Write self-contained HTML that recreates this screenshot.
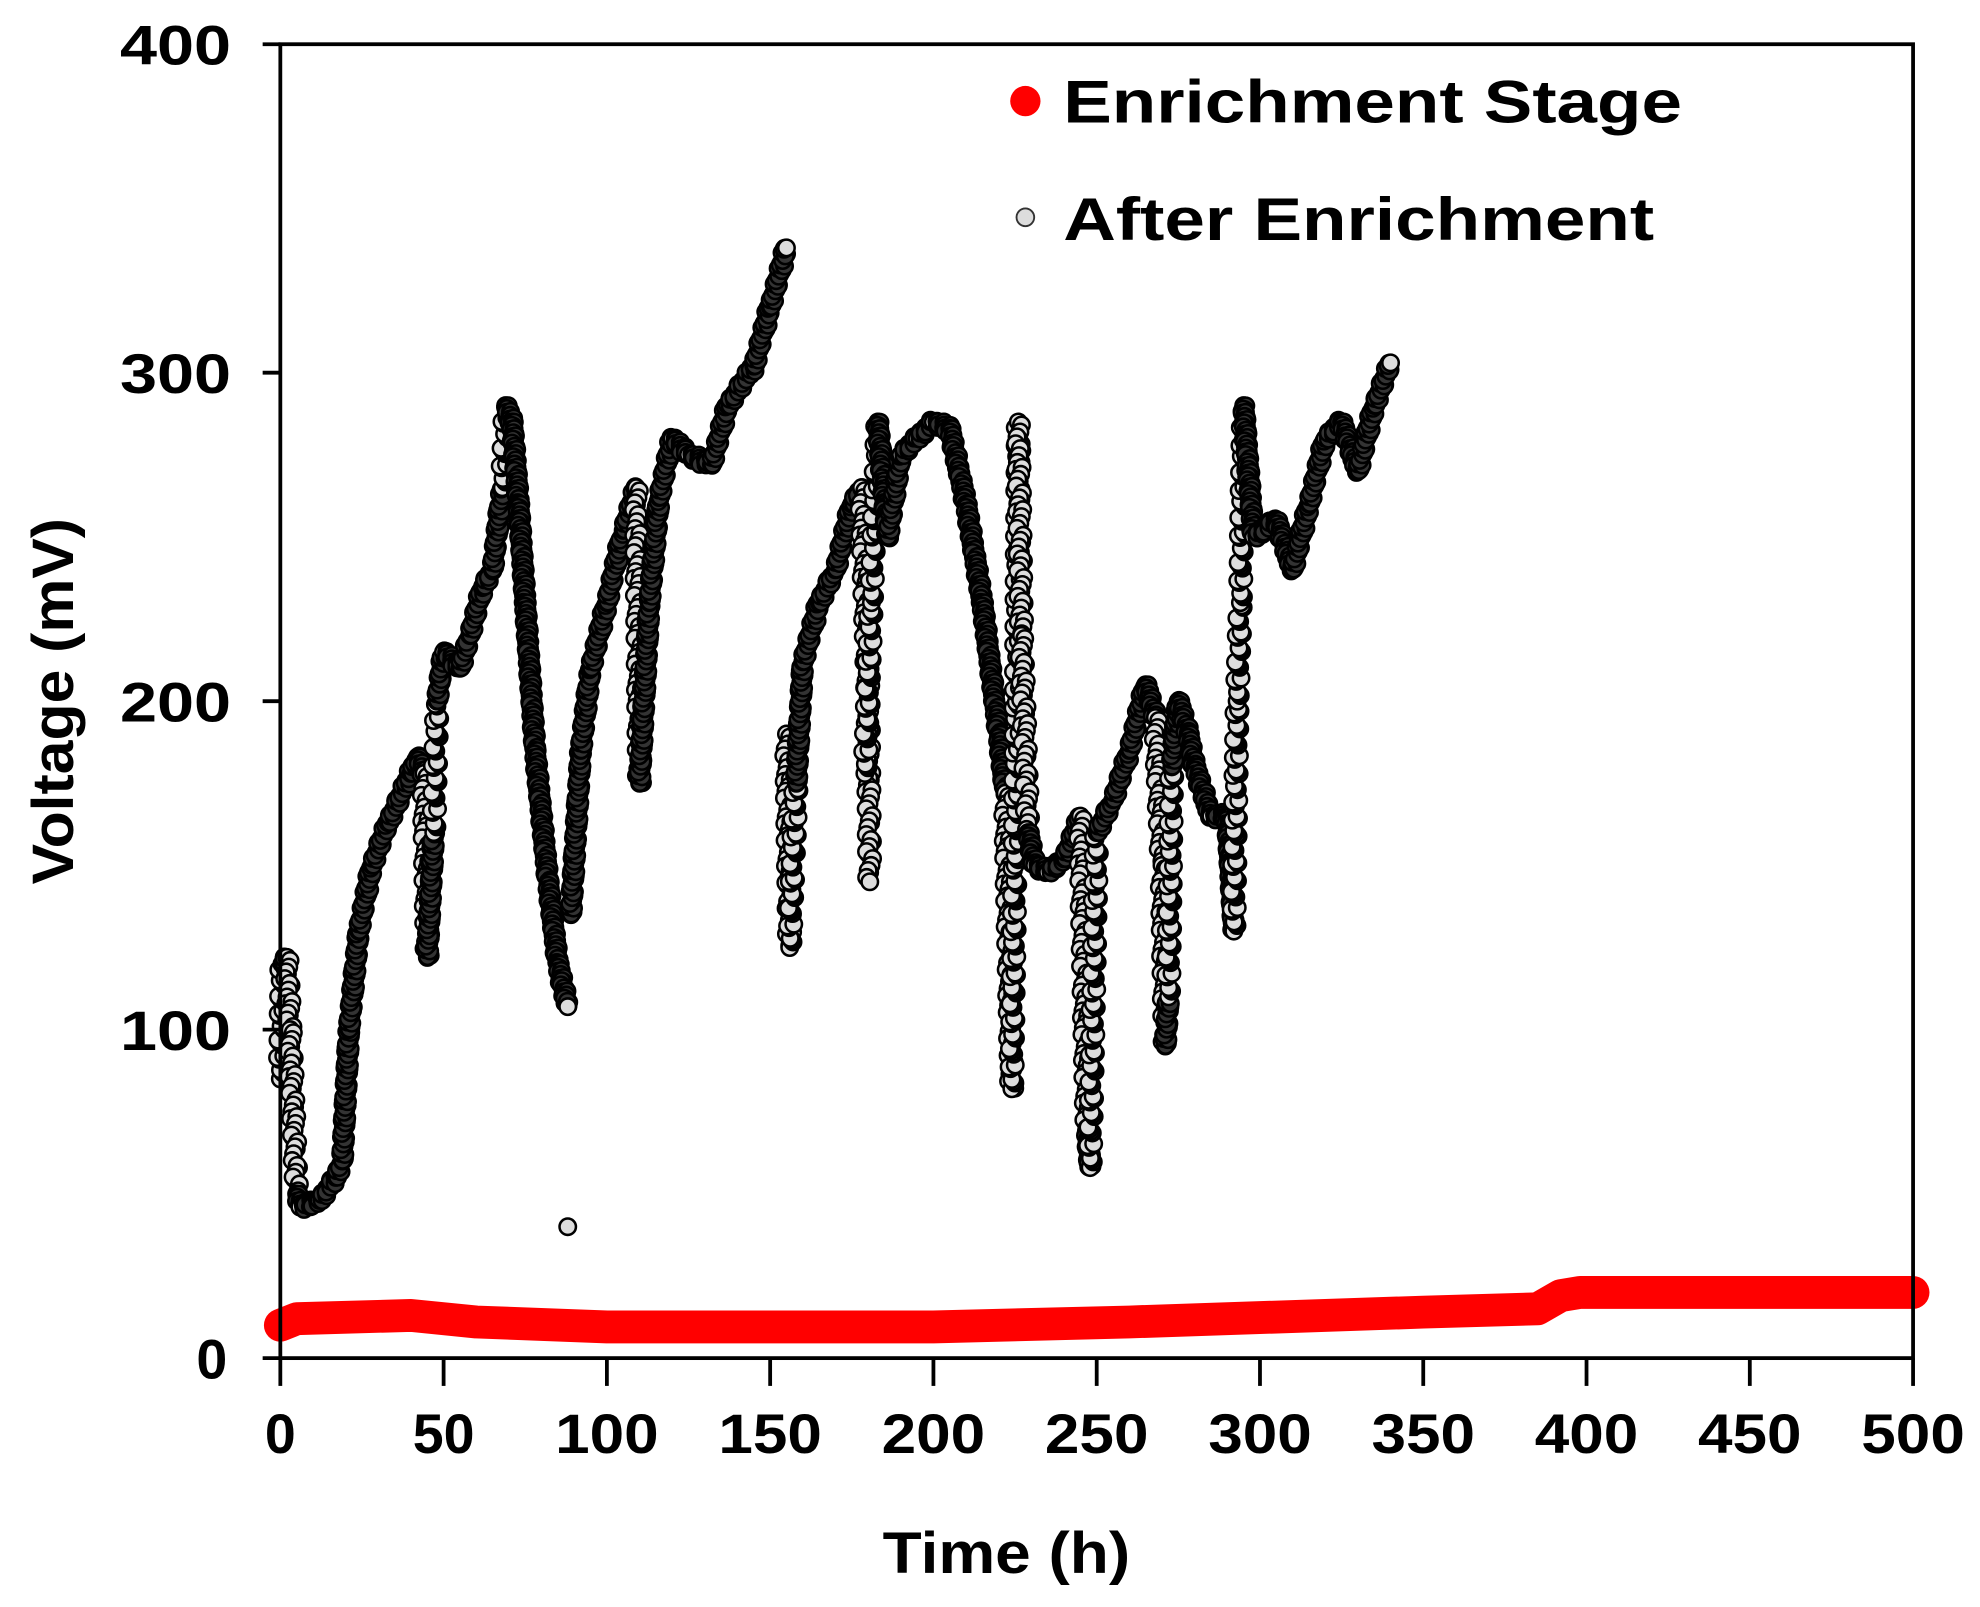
<!DOCTYPE html>
<html><head><meta charset="utf-8"><style>
html,body{margin:0;padding:0;background:#fff;}
svg{display:block;}
text{font-family:"Liberation Sans",Arial,sans-serif;font-weight:bold;fill:#000;}
</style></head><body>
<svg id="s" width="1980" height="1607" viewBox="0 0 1568 1272" preserveAspectRatio="none" xmlns="http://www.w3.org/2000/svg">
<rect width="1568" height="1272" fill="#fff"/>
<g id="red"></g>
<g id="pts"></g>
<g stroke="#000" stroke-width="3" fill="none">
<rect x="222" y="35" width="1293" height="1040"/>
<line x1="208" y1="35" x2="222" y2="35"/>
<line x1="208" y1="295" x2="222" y2="295"/>
<line x1="208" y1="555" x2="222" y2="555"/>
<line x1="208" y1="815" x2="222" y2="815"/>
<line x1="208" y1="1075" x2="222" y2="1075"/>
<g id="xt"></g>
</g>
<g font-size="44" text-anchor="end">
<text x="183" y="51" textLength="88" lengthAdjust="spacingAndGlyphs">400</text>
<text x="183" y="311" textLength="88" lengthAdjust="spacingAndGlyphs">300</text>
<text x="183" y="571" textLength="88" lengthAdjust="spacingAndGlyphs">200</text>
<text x="183" y="831" textLength="88" lengthAdjust="spacingAndGlyphs">100</text>
<text x="180" y="1091">0</text>
</g>
<g id="xl" font-size="44" text-anchor="middle"></g>
<text x="797" y="1245" font-size="46" text-anchor="middle" textLength="196" lengthAdjust="spacingAndGlyphs">Time (h)</text>
<text transform="translate(58,555) rotate(-90)" font-size="46" text-anchor="middle" textLength="290" lengthAdjust="spacingAndGlyphs">Voltage (mV)</text>
<circle cx="812" cy="80" r="12" fill="#f00"/>
<text x="842" y="97" font-size="48" textLength="490" lengthAdjust="spacingAndGlyphs">Enrichment Stage</text>
<circle cx="812" cy="172" r="7" fill="#ddd" stroke="#333" stroke-width="1.5"/>
<text x="842" y="190" font-size="48" textLength="468" lengthAdjust="spacingAndGlyphs">After Enrichment</text>
</svg>
<script>
var NS="http://www.w3.org/2000/svg";
function X(t){return 222+t*2.586;} function Y(v){return 1075-v*2.6;}
var xt=document.getElementById('xt'),xl=document.getElementById('xl');
for(var i=0;i<=10;i++){var t=i*50;
 var l=document.createElementNS(NS,'line');l.setAttribute('x1',X(t));l.setAttribute('x2',X(t));l.setAttribute('y1',1075);l.setAttribute('y2',1097);xt.appendChild(l);
 var tx=document.createElementNS(NS,'text');tx.setAttribute('x',X(t));tx.setAttribute('y',1150);tx.textContent=t;
 if(t>=100){tx.setAttribute('textLength',82);tx.setAttribute('lengthAdjust','spacingAndGlyphs');}
 xl.appendChild(tx);}
var rk=[[0,10],[5,12],[40,13],[60,11],[100,9.5],[200,9.5],[260,11],[350,14],[385,15],[392,19],[398,20],[500,20]];
var d='';rk.forEach(function(p,i){d+=(i?'L':'M')+X(p[0])+' '+Y(p[1]);});
var rp=document.createElementNS(NS,'path');rp.setAttribute('d',d);rp.setAttribute('stroke','#f00');rp.setAttribute('stroke-width','26');rp.setAttribute('fill','none');rp.setAttribute('stroke-linecap','round');rp.setAttribute('stroke-linejoin','round');
document.getElementById('red').appendChild(rp);
var segs=[
[[0,85],[0.5,120],[2,122],[3,100],[5,50],[6,46],[12,48],[17,55],[19,60],[21,100],[24,130],[28,150],[33,163],[40,178],[42,183],[44,178],[45,122],[47,160],[48,200],[50,215],[55,210],[58,220],[62,235],[65,240],[68,265],[69,290],[71,285],[73,260],[75,230],[78,185],[82,145],[85,120],[88,107]],
[[88,40]],
[[89,135],[92,185],[95,210],[100,230],[105,252],[109,265],[110,175],[113,230],[116,262],[120,280],[125,275],[132,272],[137,290],[145,302],[150,320],[155,338]],
[[155,190],[156,125],[158,175],[160,212],[165,230],[170,240],[175,260],[178,265],[180,200],[180.5,145]],
[[179,178],[181,230],[183,285],[186,250],[190,275],[195,280],[200,285],[205,283],[210,260],[215,230],[220,190],[222,172],[224,82],[225,150],[226,285],[227,220],[229,160],[231,150],[235,148],[240,152],[245,165],[247,70],[248,58],[250,160],[255,170],[260,185],[265,205],[268,195],[270,150],[271,95],[272,110],[273,180],[275,200],[278,190],[280,180],[285,165],[290,165],[292,130],[293,200],[294,230],[295,290],[298,250],[305,255],[310,240],[315,260],[320,280],[325,285],[330,270],[335,290],[340,303]]
];
var g=document.getElementById('pts'),h='';
segs.forEach(function(s){
 for(var i=0;i<s.length;i++){
  var x0=X(s[i][0]),y0=Y(s[i][1]);
  h+='<circle cx="'+x0.toFixed(1)+'" cy="'+y0.toFixed(1)+'" r="6.5"/>';
  if(i+1<s.length){var x1=X(s[i+1][0]),y1=Y(s[i+1][1]);
   var dt=s[i+1][0]-s[i][0],dv=Math.abs(s[i+1][1]-s[i][1]);
   var L=Math.hypot(x1-x0,y1-y0),steep=dv>20*Math.max(dt,0.01);
   var st=steep?3.5:1.2,n=Math.ceil(L/st),fc=steep?'':' fill="#333"';
   for(var k=1;k<n;k++){var f=k/n;var jx=((k*7919)%5-2)*(steep?1.2:0.8),jy=((k*104729)%7-3)*1.0;
    h+='<circle cx="'+(x0+(x1-x0)*f+jx).toFixed(1)+'" cy="'+(y0+(y1-y0)*f+jy).toFixed(1)+'" r="6.5"'+fc+'/>';}}
 }});
g.setAttribute('fill','#ddd');g.setAttribute('stroke','#000');g.setAttribute('stroke-width','2');
g.innerHTML=h;
</script>
</body></html>
